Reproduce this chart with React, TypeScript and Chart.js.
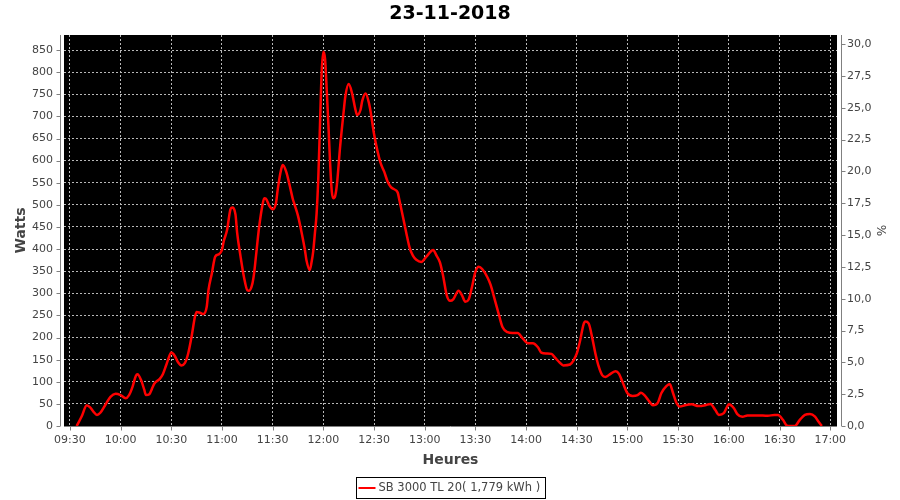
import { useEffect, useRef } from 'react';
import { Chart, registerables } from 'chart.js';

Chart.register(...registerables);

const TITLE = '23-11-2018';
const SERIES_LABEL = 'SB 3000 TL 20( 1,779 kWh )';
const X_TITLE = 'Heures';
const Y_TITLE = 'Watts';
const Y2_TITLE = '%';

const times = [
  '09:34', '09:37', '09:40', '09:42', '09:44', '09:46', '09:48', '09:51', '09:54', '09:57',
  '10:00', '10:03', '10:05', '10:07', '10:09', '10:10', '10:12', '10:14', '10:15', '10:17',
  '10:19', '10:20', '10:23', '10:25', '10:27', '10:28', '10:30', '10:32', '10:34', '10:36',
  '10:38', '10:40', '10:42', '10:44', '10:45', '10:47', '10:49', '10:51', '10:52', '10:54',
  '10:56', '10:58', '11:00', '11:01', '11:03', '11:05', '11:06', '11:08', '11:09', '11:11',
  '11:13', '11:15', '11:16', '11:18', '11:19', '11:20', '11:22', '11:24', '11:25', '11:26',
  '11:28', '11:30', '11:32', '11:33', '11:35', '11:36', '11:38', '11:40', '11:42', '11:43',
  '11:45', '11:47', '11:49', '11:50', '11:52', '11:53', '11:54', '11:55', '11:56', '11:57',
  '11:58', '11:59', '12:00', '12:01', '12:02', '12:03', '12:04', '12:05', '12:06', '12:07',
  '12:08', '12:10', '12:12', '12:13', '12:15', '12:17', '12:19', '12:20', '12:22', '12:23',
  '12:25', '12:27', '12:28', '12:30', '12:32', '12:34', '12:36', '12:38', '12:40', '12:42',
  '12:44', '12:45', '12:47', '12:49', '12:51', '12:53', '12:55', '12:58', '13:01', '13:05',
  '13:07', '13:09', '13:11', '13:13', '13:15', '13:17', '13:20', '13:22', '13:24', '13:26',
  '13:28', '13:30', '13:32', '13:34', '13:37', '13:39', '13:41', '13:44', '13:46', '13:49',
  '13:52', '13:55', '13:58', '14:01', '14:04', '14:07', '14:09', '14:12', '14:15', '14:17',
  '14:20', '14:22', '14:26', '14:28', '14:30', '14:32', '14:34', '14:35', '14:37', '14:39',
  '14:41', '14:43', '14:45', '14:47', '14:50', '14:53', '14:55', '14:57', '15:00', '15:03',
  '15:06', '15:08', '15:10', '15:13', '15:15', '15:18', '15:20', '15:23', '15:25', '15:27',
  '15:29', '15:31', '15:34', '15:38', '15:42', '15:46', '15:49', '15:52', '15:54', '15:57',
  '15:59', '16:00', '16:03', '16:05', '16:08', '16:11', '16:17', '16:23', '16:27', '16:29',
  '16:32', '16:34', '16:36', '16:39', '16:42', '16:45', '16:48', '16:51', '16:53', '16:55',
];

const watts = [
  0, 22, 47, 42, 32, 25, 30, 48, 66, 73,
  70, 63, 70, 88, 113, 117, 105, 82, 70, 72,
  88, 96, 106, 117, 138, 149, 166, 159, 144, 137,
  142, 164, 202, 247, 258, 256, 253, 270, 307, 345,
  383, 388, 398, 417, 443, 490, 494, 478, 436, 383,
  337, 307, 306, 322, 345, 380, 450, 500, 515, 514,
  498, 490, 505, 535, 580, 590, 575, 545, 512, 500,
  475, 440, 400, 375, 353, 370, 395, 436, 480, 560,
  680, 800, 846, 830, 760, 680, 594, 530, 515, 520,
  545, 635, 710, 745, 773, 752, 715, 703, 715, 735,
  752, 730, 710, 660, 622, 593, 575, 553, 540, 535,
  528, 511, 475, 438, 404, 385, 376, 371, 383, 398,
  385, 370, 337, 296, 283, 287, 306, 296, 281, 286,
  315, 349, 360, 355, 337, 319, 292, 250, 224, 212,
  210, 210, 198, 187, 187, 178, 166, 164, 163, 155,
  143, 137, 139, 148, 164, 194, 230, 236, 232, 202,
  164, 134, 115, 111, 118, 124, 118, 100, 74, 68,
  70, 75, 70, 55, 47, 53, 74, 90, 95, 74,
  52, 44, 47, 49, 45, 47, 50, 36, 25, 29,
  44, 49, 40, 27, 21, 24, 24, 23, 25, 25,
  14, 2, 0, 0, 14, 25, 27, 21, 10, 0,
];

const xTickLabels = [
  '09:30', '10:00', '10:30', '11:00', '11:30', '12:00', '12:30', '13:00',
  '13:30', '14:00', '14:30', '15:00', '15:30', '16:00', '16:30', '17:00',
];
const wattTicks = [0, 50, 100, 150, 200, 250, 300, 350, 400, 450, 500, 550, 600, 650, 700, 750, 800, 850];
const pctTicks = [0, 2.5, 5, 7.5, 10, 12.5, 15, 17.5, 20, 22.5, 25, 27.5, 30];

const toMin = (s: string) => {
  const [h, m] = s.split(':').map(Number);
  return h * 60 + m;
};
const fmtMin = (v: number) => {
  const h = Math.floor(v / 60);
  const m = Math.round(v - h * 60);
  return String(h).padStart(2, '0') + ':' + String(m).padStart(2, '0');
};

const FONT = '"DejaVu Sans", sans-serif';
const AXIS_GRAY = '#808080';
const TEXT_GRAY = '#444444';

const decorPlugin = {
  id: 'decor',
  beforeDraw(chart: any) {
    const { ctx, chartArea: a } = chart;
    ctx.save();
    ctx.fillStyle = '#ffffff';
    ctx.fillRect(0, 0, chart.width, chart.height);
    ctx.fillStyle = '#000000';
    ctx.fillRect(a.left, a.top, a.right - a.left, a.bottom - a.top);
    ctx.restore();
  },
  afterDraw(chart: any) {
    const { ctx, chartArea: a } = chart;
    const ys = chart.scales.y;
    const y2 = chart.scales.y1;
    const xs = chart.scales.x;
    ctx.save();
    ctx.strokeStyle = AXIS_GRAY;
    ctx.lineWidth = 1;
    ctx.beginPath();
    const lx = a.left - 3.5;
    ctx.moveTo(lx, a.top);
    ctx.lineTo(lx, a.bottom);
    for (const t of ys.ticks) {
      const py = Math.round(ys.getPixelForValue(t.value)) + 0.5;
      ctx.moveTo(lx - 4, py);
      ctx.lineTo(lx, py);
    }
    const rx = a.right + 4.5;
    ctx.moveTo(rx, a.top);
    ctx.lineTo(rx, a.bottom);
    for (const t of y2.ticks) {
      const py = Math.round(y2.getPixelForValue(t.value)) + 0.5;
      ctx.moveTo(rx, py);
      ctx.lineTo(rx + 4, py);
    }
    const by = a.bottom + 0.5;
    ctx.moveTo(a.left, by);
    ctx.lineTo(a.right, by);
    for (const t of xs.ticks) {
      const px = Math.round(xs.getPixelForValue(t.value)) + 0.5;
      ctx.moveTo(px, by);
      ctx.lineTo(px, by + 4);
    }
    ctx.stroke();

    // Title
    ctx.fillStyle = '#000000';
    ctx.font = 'bold 19px ' + FONT;
    ctx.textAlign = 'center';
    ctx.textBaseline = 'middle';
    ctx.fillText(TITLE, 450, 14);

    // Axis titles
    ctx.fillStyle = TEXT_GRAY;
    ctx.font = 'bold 14px ' + FONT;
    ctx.fillText(X_TITLE, (a.left + a.right) / 2, 460);
    ctx.save();
    ctx.translate(21, (a.top + a.bottom) / 2);
    ctx.rotate(-Math.PI / 2);
    ctx.fillText(Y_TITLE, 0, 0);
    ctx.restore();
    ctx.save();
    ctx.translate(880, (a.top + a.bottom) / 2);
    ctx.rotate(Math.PI / 2);
    ctx.font = '12px ' + FONT;
    ctx.fillText(Y2_TITLE, 0, 0);
    ctx.restore();

    // Legend
    const label = chart.data.datasets[0].label;
    ctx.font = '11.5px ' + FONT;
    const tw = ctx.measureText(label).width;
    const symW = 17;
    const boxW = Math.round(2 + symW + 3 + tw + 5);
    const boxH = 21;
    const bx = Math.round(450.5 - boxW / 2) + 0.5;
    const byy = 477.5;
    ctx.strokeStyle = '#000000';
    ctx.lineWidth = 1;
    ctx.strokeRect(bx, byy, boxW, boxH);
    const cy = byy + boxH / 2;
    ctx.strokeStyle = '#ff0000';
    ctx.lineWidth = 2;
    ctx.beginPath();
    ctx.moveTo(bx + 2, cy);
    ctx.lineTo(bx + 2 + symW, cy);
    ctx.stroke();
    ctx.fillStyle = TEXT_GRAY;
    ctx.textAlign = 'left';
    ctx.textBaseline = 'middle';
    ctx.fillText(label, bx + 2 + symW + 3, cy + 0.5);
    ctx.restore();
  },
};

export default function App() {
  const ref = useRef<HTMLCanvasElement | null>(null);

  useEffect(() => {
    document.body.style.margin = '0';
    const canvas = ref.current;
    if (!canvas) return;
    const data = times.map((t, i) => ({ x: toMin(t), y: watts[i] }));
    const chart = new Chart(canvas, {
      type: 'line',
      data: {
        datasets: [
          {
            label: SERIES_LABEL,
            data,
            borderColor: '#ff0000',
            backgroundColor: '#ff0000',
            borderWidth: 2.5,
            pointRadius: 0,
            tension: 0.4,
            cubicInterpolationMode: 'monotone',
            fill: false,
            yAxisID: 'y',
          },
        ],
      },
      options: {
        animation: false,
        responsive: false,
        events: [],
        layout: { padding: { top: 35, left: 0, right: 0, bottom: 0 } },
        plugins: {
          legend: { display: false },
          title: { display: false },
          tooltip: { enabled: false },
        },
        scales: {
          x: {
            type: 'linear',
            position: 'bottom',
            min: 566.5,
            max: 1024,
            afterBuildTicks: (axis: any) => {
              axis.ticks = xTickLabels.map((s) => ({ value: toMin(s) }));
            },
            afterFit: (s: any) => {
              s.height = 74;
            },
            grid: { color: '#b8b8b8', lineWidth: 1, drawTicks: false },
            border: { display: false, dash: [2, 2] },
            ticks: {
              autoSkip: false,
              maxRotation: 0,
              padding: 8,
              color: TEXT_GRAY,
              font: { family: FONT, size: 11 },
              callback: (v: any) => fmtMin(Number(v)),
            },
          },
          y: {
            type: 'linear',
            position: 'left',
            min: 0,
            max: 884,
            afterBuildTicks: (axis: any) => {
              axis.ticks = wattTicks.map((v) => ({ value: v }));
            },
            afterFit: (s: any) => {
              s.width = 64;
            },
            grid: { color: '#b8b8b8', lineWidth: 1, drawTicks: false },
            border: { display: false, dash: [2, 2] },
            ticks: {
              padding: 11,
              color: TEXT_GRAY,
              font: { family: FONT, size: 11 },
              callback: (v: any) => String(v),
            },
          },
          y1: {
            type: 'linear',
            position: 'right',
            min: 0,
            max: 30.71,
            afterBuildTicks: (axis: any) => {
              axis.ticks = pctTicks.map((v) => ({ value: v }));
            },
            afterFit: (s: any) => {
              s.width = 63;
            },
            grid: { display: true, drawOnChartArea: false, drawTicks: false },
            border: { display: false },
            ticks: {
              padding: 10,
              color: TEXT_GRAY,
              font: { family: FONT, size: 11 },
              callback: (v: any) => Number(v).toFixed(1).replace('.', ','),
            },
          },
        },
      },
      plugins: [decorPlugin],
    });
    return () => chart.destroy();
  }, []);

  return (
    <div style={{ position: 'fixed', left: 0, top: 0, width: 900, height: 500, background: '#fff' }}>
      <canvas ref={ref} width={900} height={500} style={{ display: 'block' }} />
    </div>
  );
}
